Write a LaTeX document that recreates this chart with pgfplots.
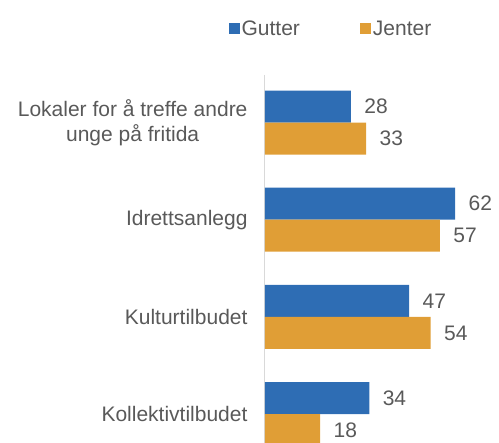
\documentclass[border=0pt]{standalone}
\usepackage{pgfplots}
\pgfplotsset{compat=1.18}
\usepackage{fontspec}
\setmainfont{Liberation Sans}
\definecolor{gblue}{HTML}{2E6DB4}
\definecolor{gorange}{HTML}{E09E36}
\definecolor{tgray}{HTML}{595959}
\definecolor{lgray}{HTML}{D9D9D9}
\begin{document}
\begin{tikzpicture}
\path[use as bounding box] (-265pt,0pt) rectangle (234pt,443pt);
\begin{axis}[
  scale only axis,
  width=234pt, height=368pt,
  xmin=0, xmax=76.3,
  ymin=-0.489, ymax=3.297,
  y dir=reverse,
  hide x axis,
  axis y line=left,
  y axis line style={lgray, line width=1pt, -},
  ytick={0,1,2,3},
  yticklabels={{Lokaler for å treffe andre\\unge på fritida},{Idrettsanlegg},{Kulturtilbudet},{Kollektivtilbudet}},
  yticklabel style={align=center, font=\fontsize{21}{25}\selectfont, text=tgray, xshift=-14pt},
  major tick length=0pt,
  bar width=32pt,
  point meta=x,
  /pgf/number format/assume math mode=true,
  nodes near coords,
  nodes near coords style={font=\fontsize{21}{25}\selectfont, text=tgray, xshift=10pt},
  legend columns=2,
  legend style={draw=none, fill=none, at={(0.282,1.125)}, anchor=center,
    font=\fontsize{21}{25}\selectfont, text=tgray,
    /tikz/every even column/.append style={column sep=58pt},
    inner sep=0pt, cells={anchor=west}},
  legend image code/.code={\fill[#1] (0pt,-5.5pt) rectangle (11pt,5.5pt);},
]
\addplot[xbar, bar shift=0pt, fill=gblue, draw=none] coordinates {(28,-0.1646) (62,0.8354) (47,1.8354) (34,2.8354)};
\addlegendentry{Gutter}
\addplot[xbar, bar shift=0pt, fill=gorange, draw=none] coordinates {(33,0.1646) (57,1.1646) (54,2.1646) (18,3.1646)};
\addlegendentry{Jenter}
\end{axis}
\end{tikzpicture}
\end{document}
